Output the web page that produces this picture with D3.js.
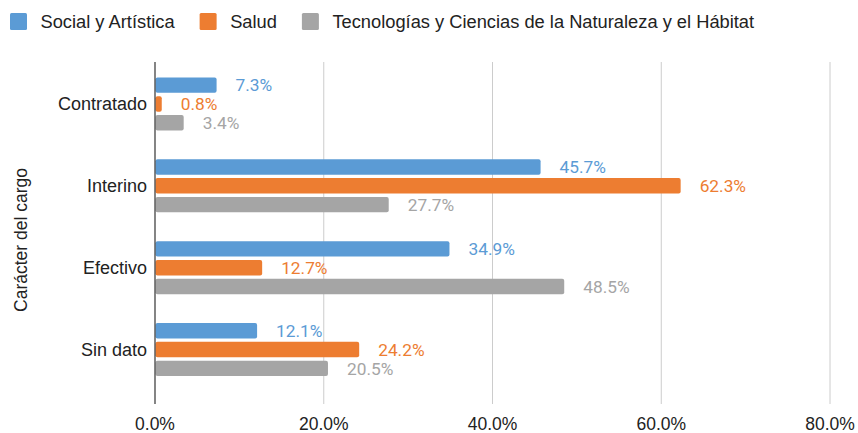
<!DOCTYPE html>
<html>
<head>
<meta charset="utf-8">
<script src="https://cdn.jsdelivr.net/npm/d3@7"></script>
<style>
  html, body { margin: 0; padding: 0; background: #fff; }
  svg { display: block; }
</style>
</head>
<body>
<div id="chart"></div>
<script>
const categories = ['Contratado', 'Interino', 'Efectivo', 'Sin dato'];
const seriesNames = ['Social y Artística', 'Salud', 'Tecnologías y Ciencias de la Naturaleza y el Hábitat'];
const seriesColors = ['#5b9bd5', '#ed7d31', '#a5a5a5'];
const socialArtistica = [7.3, 45.7, 34.9, 12.1];
const salud = [0.8, 62.3, 12.7, 24.2];
const tecnologias = [3.4, 27.7, 48.5, 20.5];
const xTicks = [0, 20, 40, 60, 80];

const seriesValues = [socialArtistica, salud, tecnologias];

const W = 858, H = 433;
const plot = { left: 155, right: 830, top: 62, bottom: 404 };
const sansFont = '"Liberation Sans", Arial, sans-serif';
const numFont = 'Roboto, "Liberation Sans", sans-serif';

const svg = d3.select('#chart').append('svg')
  .attr('width', W).attr('height', H);

const x = d3.scaleLinear().domain([0, 80]).range([plot.left, plot.right]);
const y = d3.scaleBand().domain(categories).range([63, 390.5]).paddingInner(0).paddingOuter(0);
const inner = d3.scaleBand().domain(d3.range(3)).range([-26.5, 26.5]).paddingInner(0.18);

// gridlines
svg.append('g').selectAll('line')
  .data(xTicks.filter(d => d > 0))
  .join('line')
  .attr('x1', d => x(d)).attr('x2', d => x(d))
  .attr('y1', plot.top).attr('y2', plot.bottom)
  .attr('stroke', '#cccccc').attr('stroke-width', 1);

// tick labels
svg.append('g').selectAll('text')
  .data(xTicks)
  .join('text')
  .attr('x', d => x(d)).attr('y', 429.5)
  .attr('text-anchor', 'middle')
  .attr('font-family', sansFont).attr('font-size', 17.5).attr('fill', '#222')
  .text(d => d.toFixed(1) + '%');

// bars
const groups = svg.append('g').selectAll('g')
  .data(categories)
  .join('g')
  .attr('transform', d => `translate(0,${y(d) + y.bandwidth() / 2})`);

groups.each(function(cat, ci) {
  const g = d3.select(this);
  seriesValues.forEach((vals, si) => {
    const v = vals[ci];
    g.append('rect')
      .attr('x', x(0) + 0.5)
      .attr('y', inner(si))
      .attr('width', Math.max(0, x(v) - x(0) - 0.5))
      .attr('height', inner.bandwidth())
      .attr('rx', 2)
      .attr('fill', seriesColors[si]);
    g.append('text')
      .attr('x', x(v) + 19)
      .attr('y', inner(si) + inner.bandwidth() / 2)
      .attr('dy', '0.36em')
      .attr('font-family', numFont).attr('font-size', 17.3)
      .attr('fill', seriesColors[si])
      .text(v.toFixed(1) + '%');
  });
  g.append('text')
    .attr('x', plot.left - 8)
    .attr('y', 0)
    .attr('dy', '0.36em')
    .attr('text-anchor', 'end')
    .attr('font-family', sansFont).attr('font-size', 18).attr('fill', '#222')
    .text(cat);
});

// axis line
svg.append('line')
  .attr('x1', plot.left).attr('x2', plot.left)
  .attr('y1', plot.top).attr('y2', plot.bottom)
  .attr('stroke', '#333').attr('stroke-width', 1.2);

// y axis title
svg.append('text')
  .attr('transform', 'translate(27,240) rotate(-90)')
  .attr('text-anchor', 'middle')
  .attr('font-family', sansFont).attr('font-size', 17.5).attr('fill', '#222')
  .text('Carácter del cargo');

// legend
const legend = svg.append('g');
let lx = 10;
seriesNames.forEach((name, i) => {
  legend.append('rect')
    .attr('x', lx).attr('y', 13).attr('width', 17).attr('height', 17)
    .attr('rx', 1.5).attr('fill', seriesColors[i]);
  const t = legend.append('text')
    .attr('x', lx + 30.5).attr('y', 27.5)
    .attr('font-family', sansFont).attr('font-size', 18.3).attr('fill', '#222')
    .text(name);
  lx += 30.5 + t.node().getComputedTextLength() + 25;
});
</script>
</body>
</html>
